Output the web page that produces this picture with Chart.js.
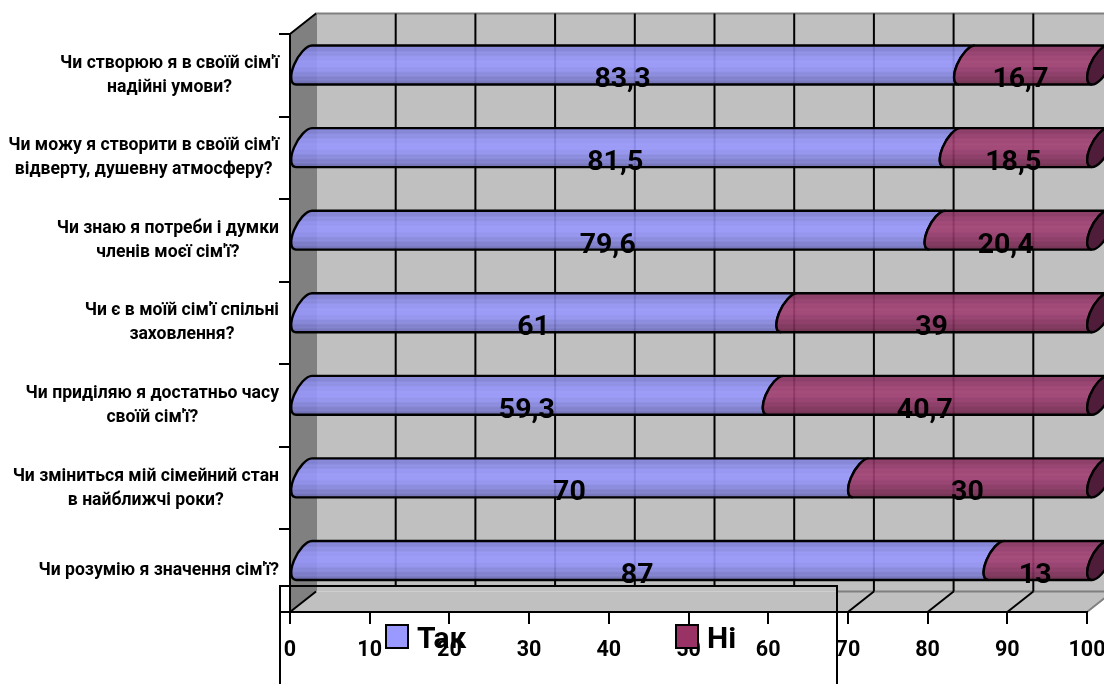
<!DOCTYPE html>
<html>
<head>
<meta charset="utf-8">
<title>Chart</title>
<script src="https://cdn.jsdelivr.net/npm/chart.js@4/dist/chart.umd.js"></script>
<style>
  html, body { margin: 0; padding: 0; background: #fff; }
  #box { width: 1104px; height: 684px; overflow: hidden; }
</style>
</head>
<body>
<div id="box"><canvas id="chart" width="1104" height="684"></canvas></div>
<script>
const categories = [
  ["Чи створюю я в своїй сім'ї", "надійні умови?"],
  ["Чи можу я створити в своїй сім'ї", "відверту, душевну атмосферу?"],
  ["Чи знаю я потреби і думки", "членів моєї сім'ї?"],
  ["Чи є в моїй сім'ї спільні", "заховлення?"],
  ["Чи приділяю я достатньо часу", "своїй сім'ї?"],
  ["Чи зміниться мій сімейний стан", "в найближчі роки?"],
  ["Чи розумію я значення сім'ї?"]
];
const yesValues = [83.3, 81.5, 79.6, 61, 59.3, 70, 87];
const noValues = [16.7, 18.5, 20.4, 39, 40.7, 30, 13];

const depthX = 26;
const depthY = 20.5;
const capW = 10;
const capSkew = -0.41;
const frameTop = 586;
const frameLeft = 280;
const frameRight = 837;

const blueStops = ["#7a7ad0", "#8383dc", "#8080d8", "#8e8eec", "#8a8ae6", "#9696fa", "#9393f6", "#9a9aff", "#9797fc", "#9999ff", "#9191f2", "#9494f6", "#8686e0", "#8a8ae4", "#7a7acc", "#7e7ed2", "#6e6eb8", "#6c6cb4"];
const plumStops = ["#7f2f5a", "#8a3362", "#873160", "#96396a", "#93376a", "#a03f72", "#9b3b6e", "#a34274", "#9e3d70", "#a03e72", "#93376a", "#96396c", "#87315f", "#8a3362", "#7b2c55", "#7e2d58", "#6e2749", "#6b2648"];

function barGradient(ctx, top, bottom, stops) {
  const g = ctx.createLinearGradient(0, top, 0, bottom);
  stops.forEach((c, i) => g.addColorStop(i / (stops.length - 1), c));
  return g;
}

// body of one segment: both ends follow the left side of the end ellipse
function cylinderPath(ctx, x0, x1, cy, r) {
  ctx.save();
  ctx.transform(1, 0, capSkew, 1, capSkew * -cy, 0);
  ctx.beginPath();
  ctx.ellipse(x0, cy, capW, r, 0, Math.PI / 2, Math.PI * 1.5);
  ctx.ellipse(x1, cy, capW, r, 0, -Math.PI / 2, Math.PI / 2, true);
  ctx.closePath();
  ctx.restore();
}

const walls = {
  id: "walls",
  beforeDraw(chart) {
    const { ctx, chartArea: a, scales } = chart;
    const backBottom = a.bottom - depthY;
    ctx.save();
    ctx.fillStyle = "#c0c0c0";
    ctx.fillRect(a.left + depthX, a.top - depthY, a.width, a.height);
    // left wall
    ctx.fillStyle = "#808080";
    ctx.beginPath();
    ctx.moveTo(a.left, a.top);
    ctx.lineTo(a.left + depthX, a.top - depthY);
    ctx.lineTo(a.left + depthX, backBottom);
    ctx.lineTo(a.left, a.bottom);
    ctx.closePath();
    ctx.fill();
    // floor
    ctx.fillStyle = "#c0c0c0";
    ctx.beginPath();
    ctx.moveTo(a.left, a.bottom);
    ctx.lineTo(a.left + depthX, backBottom);
    ctx.lineTo(a.right + depthX, backBottom);
    ctx.lineTo(a.right, a.bottom);
    ctx.closePath();
    ctx.fill();
    // wall edges
    ctx.strokeStyle = "#808080";
    ctx.lineWidth = 2;
    ctx.beginPath();
    ctx.moveTo(a.left + depthX, backBottom);
    ctx.lineTo(a.left + depthX, a.top - depthY);
    ctx.lineTo(a.right + depthX, a.top - depthY);
    ctx.moveTo(frameRight, backBottom);
    ctx.lineTo(a.right + depthX, backBottom);
    ctx.lineTo(a.right, a.bottom);
    ctx.stroke();
    // grid on back wall and floor, the legend frame hides it
    ctx.strokeStyle = "#000";
    ctx.beginPath();
    scales.x.ticks.forEach((t, i) => {
      const px = scales.x.getPixelForTick(i);
      const hidden = px + depthX < frameRight;
      if (t.value > 0 && t.value < 100) {
        ctx.moveTo(px + depthX, a.top - depthY);
        ctx.lineTo(px + depthX, hidden ? frameTop : backBottom);
      }
      if (t.value < 100 && (!hidden || t.value === 0)) {
        ctx.moveTo(px + depthX, backBottom);
        ctx.lineTo(px, a.bottom);
      }
    });
    ctx.moveTo(a.left, a.top);
    ctx.lineTo(a.left + depthX, a.top - depthY);
    ctx.stroke();
    ctx.restore();
  }
};

const cylinders = {
  id: "cylinders",
  beforeDatasetDraw() {
    return false;
  },
  afterDatasetsDraw(chart) {
    const ctx = chart.ctx;
    const last = chart.data.datasets.length - 1;
    ctx.save();
    chart.data.datasets.forEach((ds, d) => {
      chart.getDatasetMeta(d).data.forEach((bar) => {
        const h = bar.height / 2;
        const cy = bar.y - depthY / 2;
        const x0 = bar.base + depthX / 2;
        const x1 = bar.x + depthX / 2;
        cylinderPath(ctx, x0, x1, cy, h);
        ctx.globalAlpha = 0.9;
        ctx.fillStyle = barGradient(ctx, cy - h, cy + h, ds.stops);
        ctx.fill();
        ctx.globalAlpha = 1;
        ctx.strokeStyle = "#000";
        ctx.lineWidth = 2.4;
        ctx.stroke();
        if (d === last) {
          ctx.save();
          ctx.transform(1, 0, capSkew, 1, capSkew * -cy, 0);
          ctx.beginPath();
          ctx.ellipse(x1, cy, capW, h, 0, 0, Math.PI * 2);
          ctx.restore();
          ctx.fillStyle = ds.capColor;
          ctx.fill();
          ctx.stroke();
        }
      });
    });
    // value labels
    ctx.fillStyle = "#000";
    ctx.font = "bold 28.5px Roboto";
    ctx.textAlign = "center";
    ctx.textBaseline = "middle";
    chart.data.datasets.forEach((ds, d) => {
      chart.getDatasetMeta(d).data.forEach((bar, i) => {
        ctx.fillText(String(ds.data[i]).replace(".", ","), (bar.base + bar.x) / 2, bar.y + 5);
      });
    });
    ctx.restore();
  }
};

const overlay = {
  id: "overlay",
  afterDraw(chart) {
    const { ctx, scales } = chart;
    ctx.save();
    // category labels, each one centred on itself
    ctx.fillStyle = "#000";
    ctx.font = "bold 17.6px Roboto";
    ctx.textAlign = "center";
    ctx.textBaseline = "middle";
    chart.data.labels.forEach((lines, i) => {
      const y = scales.y.getPixelForTick(i);
      const w = Math.max(...lines.map((l) => ctx.measureText(l).width));
      lines.forEach((l, k) => {
        ctx.fillText(l, 279 - w / 2, y + (k - (lines.length - 1) / 2) * 24);
      });
    });
    // legend frame
    ctx.strokeStyle = "#000";
    ctx.lineWidth = 2;
    ctx.beginPath();
    ctx.moveTo(frameLeft, 684);
    ctx.lineTo(frameLeft, frameTop);
    ctx.lineTo(frameRight, frameTop);
    ctx.lineTo(frameRight, 684);
    ctx.stroke();
    // legend items
    const legendX = [386, 676];
    ctx.font = "bold 30px Roboto";
    ctx.textAlign = "left";
    chart.data.datasets.forEach((ds, d) => {
      ctx.fillStyle = ds.backgroundColor;
      ctx.fillRect(legendX[d], 625, 22, 23);
      ctx.strokeRect(legendX[d], 625, 22, 23);
      ctx.fillStyle = "#000";
      ctx.fillText(ds.label, legendX[d] + 31, 640);
    });
    ctx.restore();
  }
};

new Chart(document.getElementById("chart"), {
  type: "bar",
  data: {
    labels: categories,
    datasets: [
      { label: "Так", data: yesValues, backgroundColor: "#9999ff", stops: blueStops, stack: "a" },
      { label: "Ні", data: noValues, backgroundColor: "#993366", stops: plumStops, capColor: "#4f1d3a", stack: "a" }
    ]
  },
  options: {
    indexAxis: "y",
    responsive: false,
    animation: false,
    categoryPercentage: 1,
    barPercentage: 0.472,
    layout: { padding: { top: 34, right: 17, left: 0, bottom: 0 } },
    plugins: { legend: { display: false }, tooltip: { enabled: false } },
    scales: {
      x: {
        min: 0,
        max: 100,
        stacked: true,
        afterFit(s) { s.height = 72; s.paddingLeft = 0; s.paddingRight = 0; },
        border: { color: "#000", width: 2 },
        grid: { drawOnChartArea: false, color: "#000", lineWidth: 2, tickLength: 12 },
        ticks: { stepSize: 10, color: "#000", padding: 14, maxRotation: 0, autoSkip: false, font: { family: "Roboto", weight: "bold", size: 21.5 } }
      },
      y: {
        stacked: true,
        afterFit(s) { s.width = 290; },
        border: { color: "#000", width: 2 },
        grid: { drawOnChartArea: false, color: "#000", lineWidth: 2, tickLength: 11 },
        ticks: { display: false }
      }
    }
  },
  plugins: [walls, cylinders, overlay]
});
</script>
</body>
</html>
